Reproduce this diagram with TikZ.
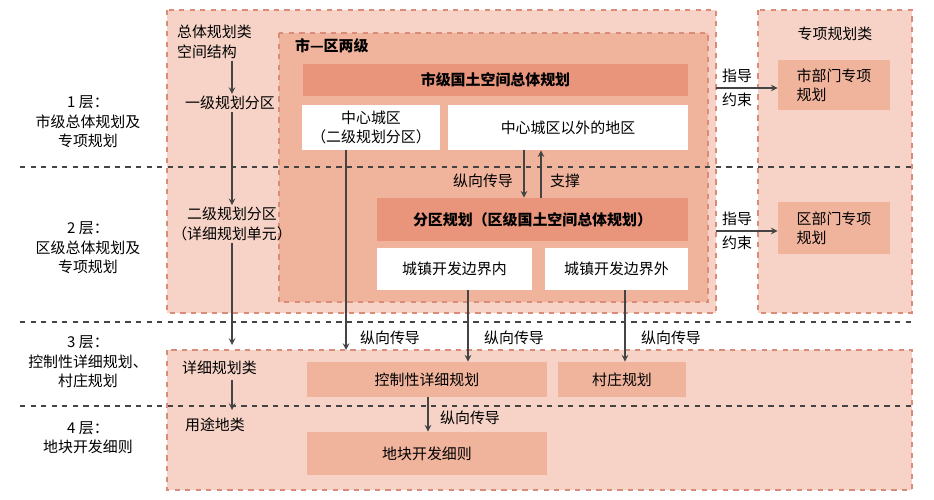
\documentclass[tikz,border=0pt]{standalone}
\usepackage{fontspec}
\setmainfont{Noto Sans CJK SC}
\usetikzlibrary{positioning}
\definecolor{pinkA}{HTML}{F6D3C6}
\definecolor{pinkB}{HTML}{F0B39C}
\definecolor{pinkC}{HTML}{E8957C}
\definecolor{lineG}{HTML}{444444}
\definecolor{dashR}{HTML}{D98C78}
\tikzset{
  zone/.style={draw=dashR, dashed, line width=0.8pt},
  head/.style={fill=pinkC, font=\fontsize{8.5}{10}\selectfont\bfseries},
  cell/.style={fill=white},
  soft/.style={fill=pinkB},
  txt/.style={inner sep=1pt, align=center},
  flow/.style={->, >=stealth, line width=0.7pt, draw=lineG},
  sep/.style={dashed, line width=1pt, draw=lineG},
}
\begin{document}
\begin{tikzpicture}[x=0.02cm, y=-0.02cm, font=\fontsize{8.5}{11}\selectfont]
  \useasboundingbox (0,0) rectangle (934,500);
  % zones
  \draw[zone, fill=pinkA] (167,10) rectangle (716,313);
  \draw[zone, fill=pinkB] (279,33) rectangle (708,302);
  \draw[zone, fill=pinkA] (758,10) rectangle (912,313);
  \draw[zone, fill=pinkA] (167,350) rectangle (912,490);
  % layer separators
  \draw[sep] (20,167) -- (912,167);
  \draw[sep] (20,322) -- (912,322);
  \draw[sep] (20,406) -- (912,406);

  % boxes
  \node[head, minimum width=385*0.02cm, minimum height=32*0.02cm] (city) at (495.5,80) {市级国土空间总体规划};
  \node[cell, minimum width=138*0.02cm, minimum height=45*0.02cm, txt] (core) at (371,127.5) {中心城区\\（二级规划分区）};
  \node[cell, minimum width=240*0.02cm, minimum height=45*0.02cm] (outer) at (568,127.5) {中心城区以外的地区};
  \node[head, minimum width=311*0.02cm, minimum height=43*0.02cm] (dist) at (532.5,219.5) {分区规划（区级国土空间总体规划）};
  \node[cell, minimum width=155*0.02cm, minimum height=42*0.02cm] (inB) at (454.5,269) {城镇开发边界内};
  \node[cell, minimum width=143*0.02cm, minimum height=42*0.02cm] (outB) at (616.5,269) {城镇开发边界外};
  \node[soft, minimum width=112*0.02cm, minimum height=50*0.02cm, txt, align=left] (cityS) at (834,85) {市部门专项\\规划};
  \node[soft, minimum width=112*0.02cm, minimum height=52*0.02cm, txt, align=left] (distS) at (834,228) {区部门专项\\规划};
  \node[soft, minimum width=240*0.02cm, minimum height=35*0.02cm] (reg) at (427,379.5) {控制性详细规划};
  \node[soft, minimum width=128*0.02cm, minimum height=35*0.02cm] (vill) at (622,379.5) {村庄规划};
  \node[soft, minimum width=240*0.02cm, minimum height=43*0.02cm] (plot) at (427,453.5) {地块开发细则};

  % labels
  \node[txt, font=\fontsize{8.5}{10}\selectfont\bfseries, anchor=west] (two) at (293,46) {市—区两级};
  \node[txt, align=left, anchor=west] (zt) at (175,42) {总体规划类\\空间结构};
  \node[txt] (z1) at (230,103) {一级规划分区};
  \node[txt] (z2) at (232,224) {二级规划分区\\（详细规划单元）};
  \node[txt, anchor=west] (xx) at (180,368) {详细规划类};
  \node[txt, anchor=west] (yt) at (183,425) {用途地类};
  \node[txt] (zx) at (835,34) {专项规划类};
  \node[txt] (L1) at (88,122) {1 层：\\市级总体规划及\\专项规划};
  \node[txt] (L2) at (88,248) {2 层：\\区级总体规划及\\专项规划};
  \node[txt] (L3) at (88,362) {3 层：\\控制性详细规划、\\村庄规划};
  \node[txt] (L4) at (88,438) {4 层：\\地块开发细则};
  \coordinate (p1) at (232,345);
  \coordinate (p2) at (232,410);
  \coordinate (p3) at (346,350);

  % connectors
  \draw[flow] (zt.south -| p1) -- (z1.north -| p1);
  \draw[flow] (z1.south -| p1) -- (z2.north -| p1);
  \draw[flow] (z2.south -| p1) -- (p1);
  \draw[flow] (232,380) -- (p2);
  \draw[flow] (core.south -| p3) -- (p3);
  \draw[flow] (inB.south -| 468,0) -- (reg.north -| 468,0);
  \draw[flow] (outB.south -| 625,0) -- (vill.north -| 625,0);
  \draw[flow] (reg.south -| 428,0) -- (plot.north -| 428,0);
  \draw[flow] (outer.south -| 524,0) -- (dist.north -| 524,0);
  \draw[flow] (dist.north -| 541,0) -- (outer.south -| 541,0);
  \draw[flow] (716,88) -- (cityS.west |- 0,88);
  \draw[flow] (716,231) -- (distS.west |- 0,231);

  % connector labels
  \node[txt] at (483,181) {纵向传导};
  \node[txt] at (565,181) {支撑};
  \node[txt] at (737,76) {指导};
  \node[txt] at (737,100) {约束};
  \node[txt] at (737,219) {指导};
  \node[txt] at (737,243) {约束};
  \node[txt] at (390,338) {纵向传导};
  \node[txt] at (514,338) {纵向传导};
  \node[txt] at (671,338) {纵向传导};
  \node[txt] at (470,418) {纵向传导};
\end{tikzpicture}
\end{document}
